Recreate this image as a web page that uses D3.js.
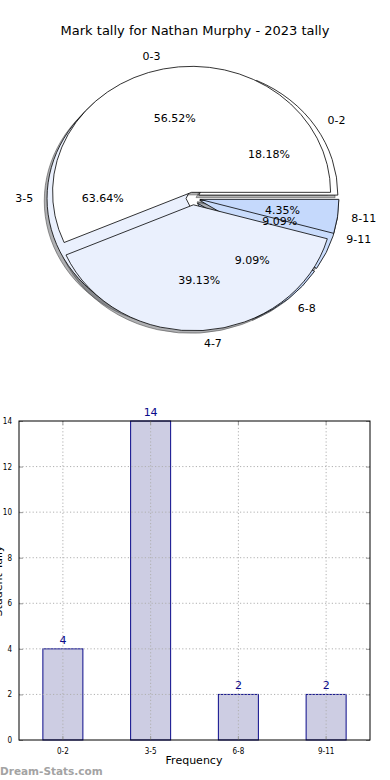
<!DOCTYPE html>
<meta charset="utf-8">
<title>Mark tally</title>
<style>
body { margin: 0; background: #fff; }
text { font-family: "DejaVu Sans", sans-serif; }
</style>
<body>
<script src="https://d3js.org/d3.v7.min.js"></script>
<script>

// pie A: 2023 bands (drawn on top)
var bandsA = ["0-3", "4-7", "8-11"];
var countsA = [13, 9, 1];
// pie B: finer bands, same as the bar chart
var bandsB = ["0-2", "3-5", "6-8", "9-11"];
var countsB = [4, 14, 2, 2];
var yTicks = [0, 2, 4, 6, 8, 10, 12, 14];

var sliceColors = ["#ffffff", "#eaf0fd", "#c5d9fc", "#c9dcfc"];

var svg = d3.select("body").append("svg")
    .attr("width", 390)
    .attr("height", 780);

svg.append("rect").attr("width", 390).attr("height", 780).attr("fill", "#fff");

svg.append("text")
    .attr("x", 195).attr("y", 35)
    .attr("text-anchor", "middle")
    .style("font-size", "13px")
    .text("Mark tally for Nathan Murphy - 2023 tally");

// ---- pie ----
var cx = 193, cy = 198.5, rx = 139, ry = 126, R = 100, explode = 0.05;

var pie = d3.pie().sort(null)
    .startAngle(Math.PI / 2)
    .endAngle(Math.PI / 2 - 2 * Math.PI);

var arc = d3.arc().innerRadius(0).outerRadius(R);

function wedges(bands, counts) {
  var total = d3.sum(counts);
  return pie(counts).map(function(d, i) {
    var m = (d.startAngle + d.endAngle) / 2;
    return {
      arc: d,
      name: bands[i],
      pct: (100 * d.value / total).toFixed(2) + "%",
      color: sliceColors[i % sliceColors.length],
      mx: Math.sin(m), my: -Math.cos(m),
      ox: cx + explode * rx * Math.sin(m),
      oy: cy - explode * ry * Math.cos(m)
    };
  });
}

var wA = wedges(bandsA, countsA);
var wB = wedges(bandsB, countsB);

var shadowG = svg.append("g");
var sliceG = svg.append("g");
var labelG = svg.append("g");

[wB, wA].forEach(function(ws) {
  shadowG.selectAll(null).data(ws).enter().append("path")
      .attr("transform", function(d) {
        return "translate(" + (d.ox - 0.02 * rx) + "," + (d.oy + 0.02 * ry) + ") scale(" + rx / R + "," + ry / R + ")";
      })
      .attr("d", function(d) { return arc(d.arc); })
      .attr("fill", function(d) { return d3.rgb(d.color).darker(2.5); })
      .attr("fill-opacity", 0.5)
      .attr("stroke", "#555")
      .attr("stroke-opacity", 0.6)
      .attr("vector-effect", "non-scaling-stroke");

  sliceG.selectAll(null).data(ws).enter().append("path")
      .attr("transform", function(d) {
        return "translate(" + d.ox + "," + d.oy + ") scale(" + rx / R + "," + ry / R + ")";
      })
      .attr("d", function(d) { return arc(d.arc); })
      .attr("fill", function(d) { return d.color; })
      .attr("stroke", "#000")
      .attr("stroke-width", 0.8)
      .attr("stroke-linejoin", "round")
      .attr("vector-effect", "non-scaling-stroke");
});

[wA, wB].forEach(function(ws) {
  labelG.selectAll(null).data(ws).enter().append("text")
      .attr("x", function(d) { return d.ox + 1.1 * rx * d.mx; })
      .attr("y", function(d) { return d.oy + 1.1 * ry * d.my; })
      .attr("dy", "0.35em")
      .attr("text-anchor", function(d) { return d.mx > 0 ? "start" : "end"; })
      .style("font-size", "11px")
      .text(function(d) { return d.name; });

  labelG.selectAll(null).data(ws).enter().append("text")
      .attr("x", function(d) { return d.ox + 0.6 * rx * d.mx; })
      .attr("y", function(d) { return d.oy + 0.6 * ry * d.my; })
      .attr("dy", "0.35em")
      .attr("text-anchor", "middle")
      .style("font-size", "11px")
      .text(function(d) { return d.pct; });
});

// ---- bar chart ----
var plotLeft = 19, plotRight = 370, plotTop = 421, plotBottom = 740;

var x = d3.scaleBand().domain(bandsB).range([plotLeft, plotRight])
    .paddingInner(0.544).paddingOuter(0.272);
var y = d3.scaleLinear().domain([0, 14]).range([plotBottom, plotTop]);

svg.append("g").selectAll(null).data(countsB).enter().append("rect")
    .attr("x", function(d, i) { return x(bandsB[i]); })
    .attr("y", function(d) { return y(d); })
    .attr("width", x.bandwidth())
    .attr("height", function(d) { return plotBottom - y(d); })
    .attr("fill", "#cdcde3")
    .attr("stroke", "#0a0a8a")
    .attr("stroke-width", 1);

// dotted grid, drawn through the bars
var grid = svg.append("g")
    .attr("stroke", "#b0b0b0")
    .attr("stroke-dasharray", "1.2,2.2");
grid.selectAll(null).data(yTicks.slice(1, -1)).enter().append("line")
    .attr("x1", plotLeft).attr("x2", plotRight)
    .attr("y1", function(d) { return y(d); }).attr("y2", function(d) { return y(d); });
grid.selectAll(null).data(bandsB).enter().append("line")
    .attr("x1", function(d) { return x(d) + x.bandwidth() / 2; })
    .attr("x2", function(d) { return x(d) + x.bandwidth() / 2; })
    .attr("y1", plotTop).attr("y2", plotBottom);

svg.append("g").selectAll(null).data(countsB).enter().append("text")
    .attr("x", function(d, i) { return x(bandsB[i]) + x.bandwidth() / 2; })
    .attr("y", function(d) { return y(d) - 5; })
    .attr("text-anchor", "middle")
    .attr("fill", "#0a0a8a")
    .style("font-size", "11px")
    .text(function(d) { return d; });

// axes with inward ticks on all sides
var yAxisL = d3.axisLeft(y).tickValues(yTicks).tickSize(-4).tickPadding(7);
var yAxisR = d3.axisRight(y).tickValues(yTicks).tickSize(-4).tickFormat("");
var xAxisB = d3.axisBottom(x).tickSize(-4).tickPadding(8);
var xAxisT = d3.axisTop(x).tickSize(-4).tickFormat("");

function styleAxis(g) {
  g.select(".domain").remove();
  g.selectAll(".tick line").attr("stroke", "#999");
  g.selectAll(".tick text").style("font-size", "8px").style("font-family", "DejaVu Sans Condensed, DejaVu Sans, sans-serif").attr("fill", "#000");
}

svg.append("g").attr("transform", "translate(" + plotLeft + ",0)").call(yAxisL).call(styleAxis);
svg.append("g").attr("transform", "translate(" + plotRight + ",0)").call(yAxisR).call(styleAxis);
svg.append("g").attr("transform", "translate(0," + plotBottom + ")").call(xAxisB).call(styleAxis);
svg.append("g").attr("transform", "translate(0," + plotTop + ")").call(xAxisT).call(styleAxis);

svg.append("rect")
    .attr("x", plotLeft).attr("y", plotTop)
    .attr("width", plotRight - plotLeft).attr("height", plotBottom - plotTop)
    .attr("fill", "none").attr("stroke", "#000").attr("stroke-width", 1);

svg.append("text")
    .attr("x", 194).attr("y", 764)
    .attr("text-anchor", "middle")
    .style("font-size", "11px")
    .text("Frequency");

// y label sits right at the edge, as in the reference
svg.append("text")
    .attr("transform", "translate(2,581) rotate(-90)")
    .attr("text-anchor", "middle")
    .style("font-size", "11px")
    .text("Student Tally");

svg.append("text")
    .attr("x", 0).attr("y", 775)
    .style("font-size", "10.5px")
    .style("font-weight", "bold")
    .attr("fill", "#a3a3a3")
    .text("Dream-Stats.com");

</script>
</body>
